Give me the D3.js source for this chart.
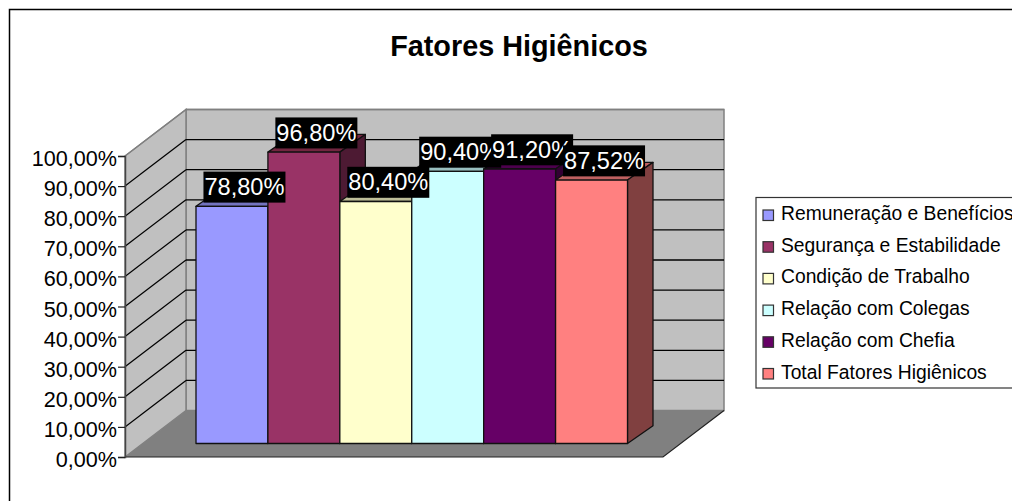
<!DOCTYPE html>
<html>
<head>
<meta charset="utf-8">
<script src="https://cdn.jsdelivr.net/npm/d3@7"></script>
<style>
html, body { margin: 0; padding: 0; background: #fff; overflow: hidden; }
svg { display: block; }
text { font-family: "Liberation Sans", Arial, sans-serif; fill: #000; }
</style>
</head>
<body>
<div id="chart"></div>
<script>
'use strict';

let categories = ['Remuneração e Benefícios', 'Segurança e Estabilidade', 'Condição de Trabalho',
    'Relação com Colegas', 'Relação com Chefia', 'Total Fatores Higiênicos'];
let values = [78.80, 96.80, 80.40, 90.40, 91.20, 87.52];
let colours = ['#9999ff', '#993366', '#ffffcc', '#ccffff', '#660066', '#ff8080'];
let sides = ['#4c4c80', '#4d1a33', '#808066', '#668080', '#330033', '#804040'];
let tops = ['#7373bf', '#732640', '#bfbf99', '#99bfbf', '#4d004d', '#bf6060'];
let y_ticks = [0, 10, 20, 30, 40, 50, 60, 70, 80, 90, 100];

let width = 1012, height = 501;

let fmt = function(v) { return v.toFixed(2).replace('.', ',') + '%'; };

let svg = d3.select('#chart').append('svg')
    .attr('width', width)
    .attr('height', height);

// chart frame, only top and left show up in the picture
svg.append('path')
    .attr('d', 'M9.5,501V9.5H1012')
    .attr('fill', 'none')
    .attr('stroke', '#000')
    .attr('stroke-width', 1.5);

svg.append('text')
    .attr('x', 519)
    .attr('y', 55.5)
    .attr('text-anchor', 'middle')
    .attr('font-size', 28.8)
    .attr('font-weight', 'bold')
    .text('Fatores Higiênicos');

// height of a value above its baseline
let y = d3.scaleLinear().domain([0, 100]).range([301, 0]);

// the box: front plane and how far the back wall is shifted from it
let front_x = 125, front_w = 538, front_base = 457;
let wall_dx = 61, wall_dy = -46.5;
let wall_x = front_x + wall_dx, wall_base = front_base + wall_dy;

let poly = function(pts) { return 'M' + pts.map(function(p) { return p.join(','); }).join('L') + 'Z'; };

// back wall
svg.append('rect')
    .attr('x', wall_x).attr('y', wall_base - 301)
    .attr('width', front_w).attr('height', 301)
    .attr('fill', '#c0c0c0')
    .attr('stroke', '#808080').attr('stroke-width', 1.5);

// side wall
svg.append('path')
    .attr('d', poly([[front_x, front_base], [wall_x, wall_base], [wall_x, wall_base - 301], [front_x, front_base - 301]]))
    .attr('fill', '#c0c0c0')
    .attr('stroke', '#808080').attr('stroke-width', 1.5);

// floor
svg.append('path')
    .attr('d', poly([[front_x, front_base], [front_x + front_w, front_base],
        [wall_x + front_w, wall_base], [wall_x, wall_base]]))
    .attr('fill', '#808080');
svg.append('path')
    .attr('d', 'M' + front_x + ',' + front_base + 'H' + (front_x + front_w) + 'L' + (wall_x + front_w) + ',' + wall_base)
    .attr('fill', 'none')
    .attr('stroke', '#222').attr('stroke-width', 1.2);

// gridlines on both walls
let grid = y_ticks.filter(function(t) { return t > 0; });
svg.append('g').selectAll('line.back')
    .data(grid)
    .enter().append('line')
    .attr('x1', wall_x).attr('x2', wall_x + front_w)
    .attr('y1', function(d) { return wall_base - 301 + y(d); })
    .attr('y2', function(d) { return wall_base - 301 + y(d); })
    .attr('stroke', function(d) { return d == 100 ? '#808080' : '#000'; })
    .attr('stroke-width', 1.3);
svg.append('g').selectAll('line.side')
    .data(grid)
    .enter().append('line')
    .attr('x1', front_x).attr('x2', wall_x)
    .attr('y1', function(d) { return front_base - 301 + y(d); })
    .attr('y2', function(d) { return wall_base - 301 + y(d); })
    .attr('stroke', function(d) { return d == 100 ? '#808080' : '#000'; })
    .attr('stroke-width', 1.2);

// value axis
let axis = svg.append('g')
    .attr('transform', 'translate(' + front_x + ',' + (front_base - 301) + ')')
    .call(d3.axisLeft(y).tickValues(y_ticks).tickSize(7).tickPadding(1).tickFormat(fmt));
axis.selectAll('text')
    .attr('font-size', 21.6)
    .attr('dy', '0.44em')
    .style('font-family', '"Liberation Sans", Arial, sans-serif');
axis.selectAll('line').attr('stroke', '#222').attr('stroke-width', 1.2);
axis.select('.domain').attr('stroke', '#444').attr('stroke-width', 1.5);

// bars
let x = d3.scaleBand().domain(categories).range([196, 627.5]);
let bar_base = 443.5, bar_dx = 25.5, bar_dy = -17.7;
let bar_top = function(i) { return bar_base - 301 + y(values[i]); };

let bars = svg.append('g').selectAll('g')
    .data(categories)
    .enter().append('g')
    .attr('stroke', '#111')
    .attr('stroke-width', 1.3)
    .attr('stroke-linejoin', 'round');

bars.append('path')
    .attr('fill', function(d, i) { return tops[i]; })
    .attr('d', function(d, i) {
        let x0 = x(d), x1 = x0 + x.bandwidth(), t = bar_top(i);
        return poly([[x0, t], [x1, t], [x1 + bar_dx, t + bar_dy], [x0 + bar_dx, t + bar_dy]]);
    });
bars.append('path')
    .attr('fill', function(d, i) { return sides[i]; })
    .attr('d', function(d, i) {
        let x1 = x(d) + x.bandwidth(), t = bar_top(i);
        return poly([[x1, t], [x1 + bar_dx, t + bar_dy], [x1 + bar_dx, bar_base + bar_dy], [x1, bar_base]]);
    });
bars.append('rect')
    .attr('fill', function(d, i) { return colours[i]; })
    .attr('x', function(d) { return x(d); })
    .attr('y', function(d, i) { return bar_top(i); })
    .attr('width', x.bandwidth())
    .attr('height', function(d, i) { return bar_base - bar_top(i); });

// data labels, black boxes with white text, later ones sit over earlier ones
let lab_w = 82, lab_h = 31;
let labels = svg.append('g').selectAll('g')
    .data(categories)
    .enter().append('g')
    .attr('transform', function(d, i) {
        return 'translate(' + (x(d) + x.bandwidth() / 2 + 12.5) + ',' + (bar_top(i) - 3.7 - lab_h) + ')';
    });
labels.append('rect')
    .attr('x', -lab_w / 2).attr('y', 0)
    .attr('width', lab_w).attr('height', lab_h)
    .attr('fill', '#000');
labels.append('text')
    .attr('x', 0).attr('y', 23.5)
    .attr('text-anchor', 'middle')
    .attr('font-size', 23.6)
    .style('fill', '#fff')
    .text(function(d, i) { return fmt(values[i]); });

// legend, runs off the right edge in the original
let legend_y = d3.scalePoint().domain(categories).range([214.5, 373]);

svg.append('rect')
    .attr('x', 756).attr('y', 197.5)
    .attr('width', 270).attr('height', 190.5)
    .attr('fill', '#fff')
    .attr('stroke', '#333').attr('stroke-width', 1.2);

let items = svg.append('g').selectAll('g')
    .data(categories)
    .enter().append('g')
    .attr('transform', function(d) { return 'translate(0,' + legend_y(d) + ')'; });
items.append('rect')
    .attr('x', 763).attr('y', -4.5)
    .attr('width', 10.5).attr('height', 10.5)
    .attr('fill', function(d, i) { return colours[i]; })
    .attr('stroke', '#333').attr('stroke-width', 1.2);
items.append('text')
    .attr('x', 781).attr('y', 5.5)
    .attr('font-size', 19.3)
    .text(function(d) { return d; });
</script>
</body>
</html>
